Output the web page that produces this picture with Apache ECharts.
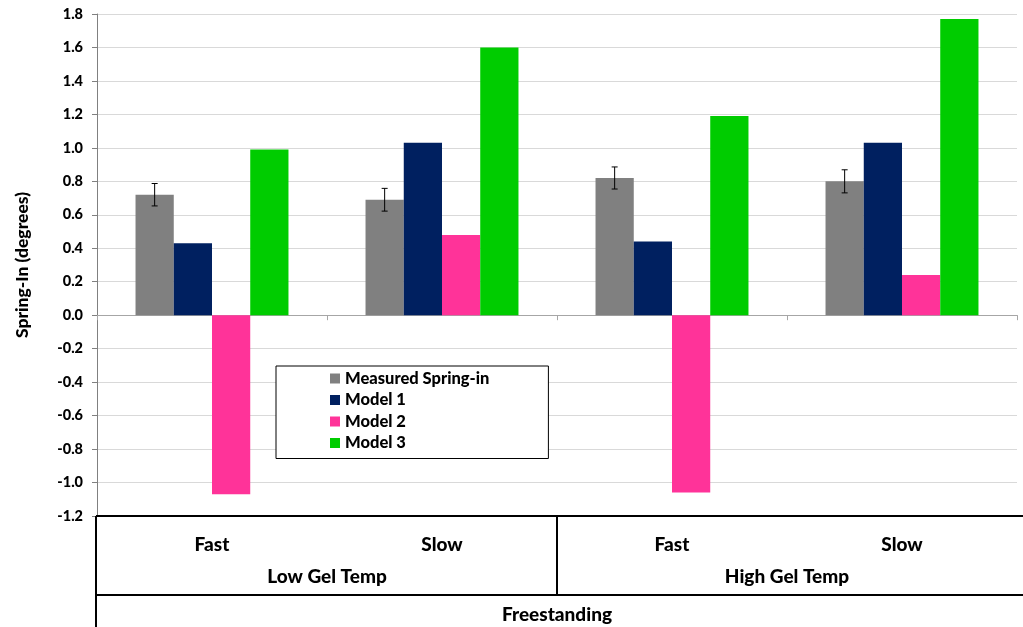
<!DOCTYPE html>
<html>
<head>
<meta charset="utf-8">
<script src="https://cdn.jsdelivr.net/npm/echarts@6/dist/echarts.min.js"></script>
<style>html,body{margin:0;padding:0;background:#fff}#c{width:1023px;height:627px}</style>
</head>
<body>
<div id="c"></div>
<script>
// ---- data ----
const categories = ['Fast', 'Slow', 'Fast', 'Slow'];
const groups = ['Low Gel Temp', 'High Gel Temp'];
const outerGroup = ['Freestanding'];
const measured = [0.72, 0.69, 0.82, 0.80];
const measuredErr = [0.067, 0.068, 0.066, 0.069];
const model1 = [0.43, 1.03, 0.44, 1.03];
const model2 = [-1.07, 0.48, -1.06, 0.24];
const model3 = [0.99, 1.60, 1.19, 1.77];
const seriesNames = ['Measured Spring-in', 'Model 1', 'Model 2', 'Model 3'];
const colors = ['#808080', '#002060', '#ff3399', '#00cc00'];

const FONT = 'Lato';
const FW = 900;
const CAT_GAP = 0.335;

const chart = echarts.init(document.getElementById('c'), null, {renderer: 'canvas'});

const errData = measured.map((v, i) => [i, v, measuredErr[i]]);

const option = {
  animation: false,
  backgroundColor: '#fff',
  grid: {left: 97, right: 6, top: 14, bottom: 111, containLabel: false},
  legend: {
    orient: 'vertical',
    left: 276,
    top: 366,
    data: seriesNames,
    icon: 'rect',
    itemWidth: 10,
    itemHeight: 10,
    itemGap: 4.5,
    padding: [4, 59, 7, 54],
    backgroundColor: '#fff',
    borderColor: '#000',
    borderWidth: 1,
    borderRadius: 0,
    textStyle: {fontFamily: FONT, fontWeight: FW, fontSize: 16.5, color: '#000', lineHeight: 16}
  },
  xAxis: [
    {
      type: 'category', data: categories, position: 'bottom',
      axisLine: {onZero: true, lineStyle: {color: '#a6a6a6', width: 1}},
      axisTick: {show: true, length: 5, lineStyle: {color: '#a6a6a6'}},
      axisLabel: {show: false},
      splitLine: {show: false}
    },
    {
      type: 'category', data: categories, position: 'bottom',
      axisLine: {show: false, onZero: false}, axisTick: {show: false},
      axisLabel: {margin: 19, fontFamily: FONT, fontWeight: FW, fontSize: 19, color: '#000'}
    },
    {
      type: 'category', data: groups, position: 'bottom',
      axisLine: {show: false, onZero: false}, axisTick: {show: false},
      axisLabel: {margin: 51, fontFamily: FONT, fontWeight: FW, fontSize: 19, color: '#000'}
    },
    {
      type: 'category', data: outerGroup, position: 'bottom',
      axisLine: {show: false, onZero: false}, axisTick: {show: false},
      axisLabel: {margin: 89, fontFamily: FONT, fontWeight: FW, fontSize: 19, color: '#000'}
    }
  ],
  yAxis: {
    type: 'value', min: -1.2, max: 1.8, interval: 0.2,
    name: 'Spring-In (degrees)', nameLocation: 'middle', nameGap: 66,
    nameTextStyle: {fontFamily: FONT, fontWeight: FW, fontSize: 17.5, color: '#000'},
    axisLine: {show: true, lineStyle: {color: '#808080', width: 1}},
    axisTick: {show: true, length: 5, lineStyle: {color: '#808080'}},
    axisLabel: {
      margin: 14, fontFamily: FONT, fontWeight: FW, fontSize: 14.5, color: '#000',
      formatter: v => (Math.abs(v) < 1e-9 ? 0 : v).toFixed(1)
    },
    splitLine: {show: true, lineStyle: {color: '#d9d9d9', width: 1}}
  },
  series: [
    ...seriesNames.map((n, k) => ({
      name: n, type: 'bar', xAxisIndex: 0,
      data: [measured, model1, model2, model3][k],
      barGap: '0%', barCategoryGap: (CAT_GAP * 100) + '%',
      itemStyle: {color: colors[k]}
    })),
    {
      name: 'err', type: 'custom', xAxisIndex: 0, z: 10,
      data: errData,
      encode: {x: 0, y: 1},
      renderItem: function (params, api) {
        const i = api.value(0), v = api.value(1), e = api.value(2);
        const top = api.coord([i, v + e]);
        const bot = api.coord([i, v - e]);
        const band = api.size([1, 0])[0];
        const bw = band * (1 - CAT_GAP) / 4;
        const x = top[0] - 1.5 * bw;
        const cap = 3;
        const st = {stroke: '#000', lineWidth: 1};
        return {
          type: 'group',
          children: [
            {type: 'line', shape: {x1: x, y1: top[1], x2: x, y2: bot[1]}, style: st},
            {type: 'line', shape: {x1: x - cap, y1: top[1], x2: x + cap, y2: top[1]}, style: st},
            {type: 'line', shape: {x1: x - cap, y1: bot[1], x2: x + cap, y2: bot[1]}, style: st}
          ]
        };
      }
    }
  ]
};
chart.setOption(option);

// table lines below the plot
const yb = chart.convertToPixel({yAxisIndex: 0}, -1.2);
const xl = 96;
const xsep = (chart.convertToPixel({xAxisIndex: 0}, 1) + chart.convertToPixel({xAxisIndex: 0}, 2)) / 2;
const y2 = yb + 79;
const W = 1023, H = 627;
const ls = {stroke: '#000', lineWidth: 2};
chart.setOption({
  graphic: [
    {type: 'line', shape: {x1: xl, y1: yb, x2: W, y2: yb}, style: ls, z: 100},
    {type: 'line', shape: {x1: xl, y1: y2, x2: W, y2: y2}, style: ls, z: 100},
    {type: 'line', shape: {x1: xl, y1: yb, x2: xl, y2: H}, style: ls, z: 100},
    {type: 'line', shape: {x1: xsep, y1: yb, x2: xsep, y2: y2}, style: ls, z: 100}
  ]
});
</script>
</body>
</html>
